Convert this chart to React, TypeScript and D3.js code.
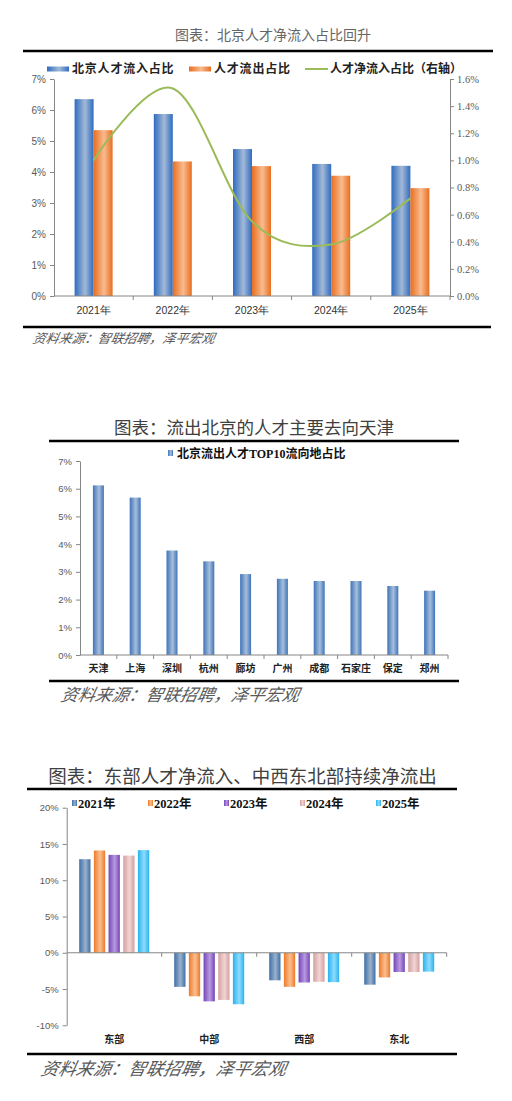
import React, {useEffect, useRef} from "react";
import * as d3 from "d3";

// chart 1: Beijing talent inflow / outflow share
const years = ["2021年", "2022年", "2023年", "2024年", "2025年"];
const inflowShare = [6.35, 5.87, 4.74, 4.26, 4.2];
const outflowShare = [5.35, 4.34, 4.19, 3.88, 3.48];
const netInflowShare = [1.0, 1.53, 0.55, 0.38, 0.72];
const leftTicks1 = [0, 1, 2, 3, 4, 5, 6, 7];
const rightTicks1 = [0, 0.2, 0.4, 0.6, 0.8, 1.0, 1.2, 1.4, 1.6];

// chart 2: top 10 destinations
const cities = ["天津", "上海", "深圳", "杭州", "廊坊", "广州", "成都", "石家庄", "保定", "郑州"];
const cityShare = [6.12, 5.68, 3.77, 3.38, 2.92, 2.75, 2.67, 2.67, 2.49, 2.32];
const ticks2 = [0, 1, 2, 3, 4, 5, 6, 7];

// chart 3: regional net inflow
const regions = ["东部", "中部", "西部", "东北"];
const net2021 = [12.9, -4.7, -3.8, -4.4];
const net2022 = [14.1, -6.0, -4.7, -3.4];
const net2023 = [13.5, -6.7, -4.1, -2.65];
const net2024 = [13.4, -6.5, -4.0, -2.65];
const net2025 = [14.15, -7.1, -4.05, -2.6];
const ticks3 = [-10, -5, 0, 5, 10, 15, 20];

const CJK = '"Noto Sans CJK SC", sans-serif';
const NUM = '"Liberation Sans", Arial, sans-serif';
const SERIF = '"Liberation Serif", "Noto Sans CJK SC", serif';
const AXIS = "#868686";
const LABEL = "#595959";

function App(): JSX.Element {
    const svgRef = useRef<SVGSVGElement>(null);

    useEffect(() => {
        if (!svgRef.current) return;
        const svg = d3.select(svgRef.current);
        svg.selectAll("*").remove();

        const defs = svg.append("defs");
        const gradient = (id: string, dark: string, light: string) => {
            const g = defs.append("linearGradient").attr("id", id)
                .attr("x1", "0").attr("x2", "1").attr("y1", "0").attr("y2", "0");
            g.append("stop").attr("offset", "0%").attr("stop-color", dark);
            g.append("stop").attr("offset", "55%").attr("stop-color", light);
            g.append("stop").attr("offset", "100%").attr("stop-color", dark);
        };
        gradient("blue1", "#2f6cc0", "#a3b9d6");
        gradient("orange1", "#e86e1e", "#f9bb90");
        gradient("blue2", "#3f74b8", "#a6bedc");
        gradient("c2021", "#3f6fa8", "#9ab2cc");
        gradient("c2022", "#ec7a2a", "#fbbf8f");
        gradient("c2023", "#7446b8", "#b99ae0");
        gradient("c2024", "#d4a0a0", "#f2d4d4");
        gradient("c2025", "#29b2ee", "#8fdcff");

        const heavyRule = (x1: number, x2: number, y: number) => svg.append("line")
            .attr("x1", x1).attr("x2", x2).attr("y1", y).attr("y2", y)
            .attr("stroke", "#000").attr("stroke-width", 2.5);

        const title = (text: string, x: number, y: number, size: number, color: string) => svg.append("text")
            .attr("x", x).attr("y", y).attr("text-anchor", "middle")
            .attr("font-family", CJK).attr("font-size", size).attr("fill", color).text(text);

        const source = (x: number, y: number, size: number) => svg.append("text")
            .attr("x", x).attr("y", y).attr("font-family", CJK).attr("font-size", size)
            .attr("font-style", "italic").attr("fill", LABEL).attr("transform", `skewX(-12) translate(${y * 0.2126}, 0)`)
            .text("资料来源：智联招聘，泽平宏观");

        const styleAxis = (g: d3.Selection<SVGGElement, unknown, null, undefined>, font: string, size: number) => {
            g.select(".domain").attr("stroke", AXIS);
            g.selectAll(".tick line").attr("stroke", AXIS);
            g.selectAll(".tick text").attr("font-family", font).attr("font-size", size).attr("fill", LABEL);
        };

        // ---------------- chart 1 ----------------
        title("图表：北京人才净流入占比回升", 273, 40, 14, "#666");
        heavyRule(23, 493, 51);

        const x1 = d3.scaleBand().domain(years).range([54, 450]);
        const y1 = d3.scaleLinear().domain([0, 7]).range([296, 79]);
        const y1r = d3.scaleLinear().domain([0, 1.6]).range([296, 79]);
        const bw1 = 19;

        const g1 = svg.append("g");
        g1.selectAll("rect.in").data(years).enter().append("rect")
            .attr("x", d => (x1(d) || 0) + x1.bandwidth() / 2 - bw1)
            .attr("y", (d, i) => y1(inflowShare[i]))
            .attr("width", bw1)
            .attr("height", (d, i) => y1(0) - y1(inflowShare[i]))
            .attr("fill", "url(#blue1)");
        g1.selectAll("rect.out").data(years).enter().append("rect")
            .attr("x", d => (x1(d) || 0) + x1.bandwidth() / 2)
            .attr("y", (d, i) => y1(outflowShare[i]))
            .attr("width", bw1)
            .attr("height", (d, i) => y1(0) - y1(outflowShare[i]))
            .attr("fill", "url(#orange1)");

        const leftAxis1 = svg.append("g").attr("transform", "translate(54,0)")
            .call(d3.axisLeft(y1).tickValues(leftTicks1).tickFormat(d => `${d}%`).tickSize(4).tickSizeOuter(0).tickPadding(4));
        styleAxis(leftAxis1, NUM, 10);
        const rightAxis1 = svg.append("g").attr("transform", "translate(450,0)")
            .call(d3.axisRight(y1r).tickValues(rightTicks1).tickFormat(d => `${(+d).toFixed(1)}%`).tickSize(4).tickSizeOuter(0).tickPadding(3));
        styleAxis(rightAxis1, '"Liberation Serif", serif', 10.5);

        svg.append("line").attr("x1", 54).attr("x2", 450).attr("y1", 296).attr("y2", 296).attr("stroke", AXIS);
        years.forEach(d => {
            const bx = (x1(d) || 0) + x1.bandwidth();
            svg.append("line").attr("x1", bx).attr("x2", bx).attr("y1", 296).attr("y2", 300).attr("stroke", AXIS);
        });
        svg.selectAll("text.xl1").data(years).enter().append("text")
            .attr("x", d => (x1(d) || 0) + x1.bandwidth() / 2)
            .attr("y", 314).attr("text-anchor", "middle")
            .attr("font-family", NUM).attr("font-size", 10.5).attr("fill", "#333")
            .text(d => d);

        const line1 = d3.line<number>()
            .x((d, i) => (x1(years[i]) || 0) + x1.bandwidth() / 2)
            .y(d => y1r(d))
            .curve(d3.curveCatmullRom.alpha(0));
        svg.append("path").attr("d", line1(netInflowShare) || "")
            .attr("fill", "none").attr("stroke", "#9bbb59").attr("stroke-width", 2);

        // legend 1
        const leg1 = [
            {label: "北京人才流入占比", fill: "url(#blue1)", x: 47, type: "rect", spacing: 0.8},
            {label: "人才流出占比", fill: "url(#orange1)", x: 189, type: "rect", spacing: 0.8},
            {label: "人才净流入占比（右轴）", fill: "#9bbb59", x: 305, type: "line", spacing: 0}
        ];
        leg1.forEach(l => {
            if (l.type === "rect") {
                svg.append("rect").attr("x", l.x).attr("y", 66.5).attr("width", 22).attr("height", 5).attr("fill", l.fill);
            } else {
                svg.append("line").attr("x1", l.x).attr("x2", l.x + 23).attr("y1", 69).attr("y2", 69)
                    .attr("stroke", l.fill).attr("stroke-width", 2);
            }
            svg.append("text").attr("x", l.x + 25).attr("y", 73)
                .attr("font-family", CJK).attr("font-size", 12).attr("font-weight", 700)
                .attr("fill", "#222").attr("letter-spacing", l.spacing).text(l.label);
        });

        heavyRule(23, 491, 327);
        source(32, 343, 13);

        // ---------------- chart 2 ----------------
        title("图表：流出北京的人才主要去向天津", 254, 434, 17.5, "#404040");
        heavyRule(49, 459, 441);

        const x2 = d3.scaleBand().domain(cities).range([80, 448]);
        const y2 = d3.scaleLinear().domain([0, 7]).range([655, 461]);
        const bw2 = 11;
        svg.selectAll("rect.city").data(cities).enter().append("rect")
            .attr("x", d => (x2(d) || 0) + x2.bandwidth() / 2 - bw2 / 2)
            .attr("y", (d, i) => y2(cityShare[i]))
            .attr("width", bw2)
            .attr("height", (d, i) => y2(0) - y2(cityShare[i]))
            .attr("fill", "url(#blue2)");

        const leftAxis2 = svg.append("g").attr("transform", "translate(80,0)")
            .call(d3.axisLeft(y2).tickValues(ticks2).tickFormat(d => `${d}%`).tickSize(4).tickSizeOuter(0).tickPadding(4));
        styleAxis(leftAxis2, NUM, 9.5);
        svg.append("line").attr("x1", 80).attr("x2", 448).attr("y1", 655).attr("y2", 655).attr("stroke", AXIS);
        cities.forEach(d => {
            const bx = (x2(d) || 0) + x2.bandwidth();
            svg.append("line").attr("x1", bx).attr("x2", bx).attr("y1", 655).attr("y2", 659).attr("stroke", AXIS);
        });
        svg.selectAll("text.xl2").data(cities).enter().append("text")
            .attr("x", d => (x2(d) || 0) + x2.bandwidth() / 2)
            .attr("y", 672).attr("text-anchor", "middle")
            .attr("font-family", CJK).attr("font-size", 10).attr("font-weight", 700).attr("fill", "#222")
            .text(d => d);

        svg.append("rect").attr("x", 168).attr("y", 450).attr("width", 5).attr("height", 6).attr("fill", "url(#blue2)");
        svg.append("text").attr("x", 177).attr("y", 457.5)
            .attr("font-family", SERIF).attr("font-size", 12).attr("font-weight", 700).attr("fill", "#111")
            .text("北京流出人才TOP10流向地占比");

        heavyRule(49, 459, 681);
        source(60, 701, 17);

        // ---------------- chart 3 ----------------
        title("图表：东部人才净流入、中西东北部持续净流出", 242.5, 783, 18.5, "#404040");
        heavyRule(27, 457, 789);

        const series3 = [net2021, net2022, net2023, net2024, net2025];
        const x3 = d3.scaleBand().domain(regions).range([66.7, 446.7]);
        const xin = d3.scaleBand().domain(years).range([-35, 35]).paddingInner(0.23);
        const y3 = d3.scaleLinear().domain([-10, 20]).range([1025.3, 807.7]);
        const fills3 = ["url(#c2021)", "url(#c2022)", "url(#c2023)", "url(#c2024)", "url(#c2025)"];

        series3.forEach((vals, s) => {
            svg.selectAll(`rect.s3-${s}`).data(regions).enter().append("rect")
                .attr("x", d => (x3(d) || 0) + x3.bandwidth() / 2 + (xin(years[s]) || 0))
                .attr("y", (d, i) => y3(Math.max(0, vals[i])))
                .attr("width", xin.bandwidth())
                .attr("height", (d, i) => Math.abs(y3(vals[i]) - y3(0)))
                .attr("fill", fills3[s]);
        });

        const leftAxis3 = svg.append("g").attr("transform", "translate(66.7,0)")
            .call(d3.axisLeft(y3).tickValues(ticks3).tickFormat(d => `${d}%`).tickSize(4).tickSizeOuter(0).tickPadding(4));
        styleAxis(leftAxis3, NUM, 9.5);
        svg.append("line").attr("x1", 66.7).attr("x2", 446.7).attr("y1", y3(0)).attr("y2", y3(0)).attr("stroke", AXIS);
        regions.forEach(d => {
            const bx = (x3(d) || 0) + x3.bandwidth();
            svg.append("line").attr("x1", bx).attr("x2", bx).attr("y1", y3(0)).attr("y2", y3(0) + 4).attr("stroke", AXIS);
        });
        svg.selectAll("text.xl3").data(regions).enter().append("text")
            .attr("x", d => (x3(d) || 0) + x3.bandwidth() / 2)
            .attr("y", 1043).attr("text-anchor", "middle")
            .attr("font-family", CJK).attr("font-size", 10).attr("font-weight", 700).attr("fill", "#222")
            .text(d => d);

        years.forEach((yr, s) => {
            const lx = 72 + s * 76;
            svg.append("rect").attr("x", lx).attr("y", 800).attr("width", 5).attr("height", 6).attr("fill", fills3[s]);
            svg.append("text").attr("x", lx + 6).attr("y", 807.5)
                .attr("font-family", SERIF).attr("font-size", 12.5).attr("font-weight", 700).attr("fill", "#111")
                .text(yr);
        });

        heavyRule(27, 457, 1054);
        source(40, 1075, 17.5);
    }, []);

    return (
        <svg
            ref={svgRef}
            width={512}
            height={1101}
            style={{position: "absolute", left: 0, top: 0, background: "#fff"}}
        />
    );
}

export default App;
